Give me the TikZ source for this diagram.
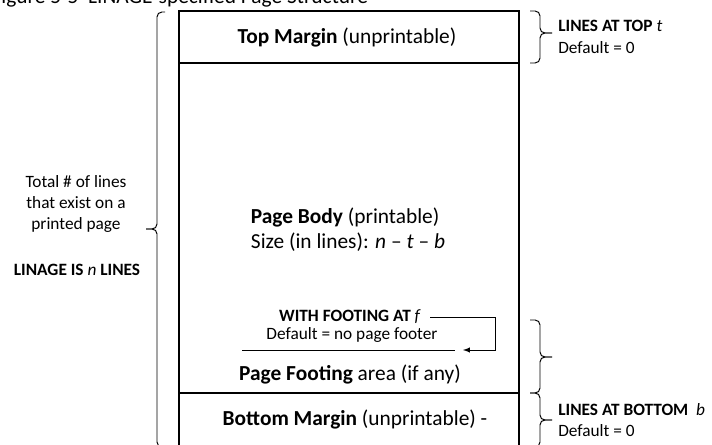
\documentclass[tikz,border=0pt]{standalone}
\usepackage{fontspec}
\setmainfont{Carlito}
\usetikzlibrary{arrows}

\tikzset{
    big/.style={font=\fontsize{15.2}{18}\selectfont},
    small/.style={font=\fontsize{12.3}{15.2}\selectfont},
    brc/.style={line width=0.7pt, rounded corners=3.5},
}
% brace: end x, line x, tip x, top y, tip y, bottom y
\newcommand{\pgbrace}[6]{
    \draw[brc] (#1,#4) -- (#2,#4) -- (#2,#5) -- (#3,#5);
    \draw[brc] (#1,#6) -- (#2,#6) -- (#2,#5) -- (#3,#5);
}

\begin{document}
\begin{tikzpicture}[x=0.025cm, y=-0.025cm, line width=0.9pt]
        \useasboundingbox (0,0) rectangle (712,445);
        \clip (0,0) rectangle (712,445);
        \node[big, anchor=base west, inner sep=0pt] (title) at (-9,4) {Figure 5-5\ \ LINAGE-specified Page Structure};
        % page outline
        \coordinate (tl) at (179,11);
        \coordinate (br) at (519,447);
        \draw (tl) rectangle (br);
        \draw (179,63) -- (519,63);
        \draw (179,393) -- (519,393);
        % texts inside the page
        \node[big] (top) at (347,37) {\textbf{Top Margin} (unprintable)};
        \node[big, align=left] (body) at (348,230) {\textbf{Page Body} (printable)\\Size (in lines): \textit{n} -- \textit{t} -- \textit{b}};
        \node[small] (fwith) at (350,317) {\textbf{WITH FOOTING AT} \textit{f}};
        \node[small] (fdef) at (352,335) {Default = no page footer};
        \node[big] (foot) at (350,374) {\textbf{Page Footing} area (if any)};
        \node[big] (bot) at (355,419) {\textbf{Bottom Margin} (unprintable) -};
        % footing arrow
        \coordinate (ul1) at (242,350);
        \coordinate (ul2) at (455,350);
        \draw[line width=0.7pt] (ul1) -- (ul2);
        \coordinate (c1) at (495,317);
        \coordinate (c2) at (495,350);
        \coordinate (c3) at (463,350);
        \draw[line width=0.7pt, -latex] ([xshift=3pt]fwith.east) -- (c1) -- (c2) -- (c3);
        % left brace
        \pgbrace{165}{157}{146}{12}{229}{447}
        \node[small, align=center] (total) at (76,204) {Total \# of lines\\that exist on a\\printed page};
        \node[small] (linage) at (77,270) {\textbf{LINAGE IS} \textit{n} \textbf{LINES}};
        % right braces
        \pgbrace{530}{540}{552}{11}{33}{63}
        \pgbrace{530}{540}{552}{320}{357}{393}
        \pgbrace{530}{540}{552}{393}{420}{447}
        \node[small, anchor=west, align=left] (ltop) at (553,37) {\textbf{LINES AT TOP} \textit{t}\\Default = 0};
        \node[small, anchor=west, align=left] (lbot) at (553,420) {\textbf{LINES AT BOTTOM}\ \ \textit{b}\\Default = 0};
    \end{tikzpicture}
\end{document}
